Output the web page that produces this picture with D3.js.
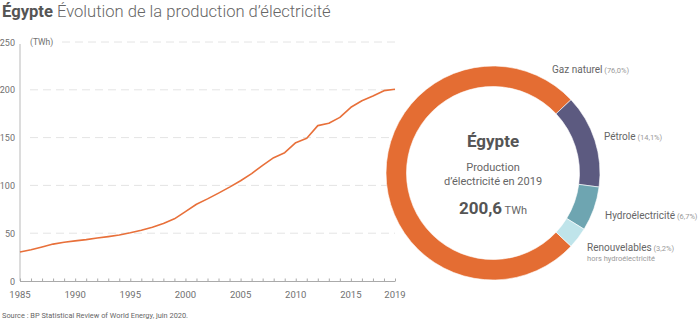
<!DOCTYPE html>
<html><head><meta charset="utf-8">
<script src="https://cdn.jsdelivr.net/npm/d3@7"></script>
<style>
body{margin:0;background:#fff;}
svg{display:block;font-family:Roboto, "Open Sans", sans-serif;}
</style></head>
<body>
<svg id="c" width="700" height="327"></svg>
<script>
const years = d3.range(1985, 2020);
const production = [30.4,32.6,35.6,38.6,40.5,42.0,43.3,44.9,46.4,48.1,50.4,53.1,56.3,60.2,65.0,72.6,80.3,85.9,91.9,98.2,104.9,112.4,121.0,129.0,134.2,144.7,149.3,162.5,165.0,171.2,181.7,188.6,193.5,199.1,200.6];
const yTicks = [0,50,100,150,200,250];
const xTickLabels = [1985,1990,1995,2000,2005,2010,2015,2019];
const sources = ["Gaz naturel","Pétrole","Hydroélectricité","Renouvelables"];
const shares = [76.0,14.1,6.7,3.2];
const shareLabels = ["(76,0%)","(14,1%)","(6,7%)","(3,2%)"];
const colors = ["#E46D33","#5C5A80","#6EA5B1","#BFE4EA"];

const svg = d3.select("#c");

// Title
const title = svg.append("text").attr("x",2).attr("y",17).attr("font-size",16.6).attr("fill","#555");
title.append("tspan").attr("font-weight",700).text("Égypte");
title.append("tspan").attr("font-weight",300).attr("fill","#666").text(" Évolution de la production d’électricité");

// Line chart
const x = d3.scaleLinear().domain([1985,2019]).range([20,395]);
const y = d3.scaleLinear().domain([0,250]).range([281,42]);

// grid
svg.append("g").selectAll("line").data(yTicks.filter(d=>d>0)).join("line")
  .attr("x1", d=> d===250 ? 62 : 30).attr("x2",395)
  .attr("y1", d=>y(d)).attr("y2", d=>y(d))
  .attr("stroke","#e4e4e4").attr("stroke-width",1).attr("stroke-dasharray","8,5");

// y labels
svg.append("g").selectAll("text").data(yTicks).join("text")
  .attr("x",15).attr("y",d=>y(d)+3.5).attr("text-anchor","end")
  .attr("font-size",9).attr("fill","#707070").text(d=>d);

svg.append("text").attr("x",30).attr("y",45).attr("font-size",8.5).attr("fill","#707070").text("(TWh)");

// y axis line
svg.append("line").attr("x1",20).attr("x2",20).attr("y1",44).attr("y2",281)
  .attr("stroke","#dcdcdc").attr("stroke-width",2);

// x axis
const xAxis = d3.axisBottom(x).tickValues(years).tickSize(-3).tickFormat("");
const gx = svg.append("g").attr("transform","translate(0,281.5)").call(xAxis);
gx.select(".domain").attr("stroke","#aaa").attr("d","M20,0H395");
gx.selectAll(".tick line").attr("stroke","#aaa");
svg.append("g").selectAll("text").data(xTickLabels).join("text")
  .attr("x",d=>x(d)).attr("y",298).attr("text-anchor","middle")
  .attr("font-size",9.5).attr("fill","#707070").text(d=>d);

// line
svg.append("path").datum(production)
  .attr("fill","none").attr("stroke","#E8703A").attr("stroke-width",1.6)
  .attr("stroke-linejoin","round")
  .attr("d", d3.line().x((d,i)=>x(years[i])).y(d=>y(d)));

// Source
svg.append("text").attr("x",2).attr("y",318).attr("font-size",7.4).attr("fill","#666")
  .text("Source : BP Statistical Review of World Energy, juin 2020.");

// Donut
const cx = 493, cy = 173, rOut = 107, rIn = 86.5;
const startA = (270 - 0.76*180) * Math.PI/180;
const pie = d3.pie().sort(null).value(d=>d).startAngle(startA).endAngle(startA + 2*Math.PI);
const arc = d3.arc().innerRadius(rIn).outerRadius(rOut);
const g = svg.append("g").attr("transform",`translate(${cx},${cy})`);
g.selectAll("path").data(pie(shares)).join("path")
  .attr("d",arc).attr("fill",(d,i)=>colors[i]).attr("stroke","#fff").attr("stroke-width",0.6);

// center texts
g.append("text").attr("x",0).attr("y",-26).attr("text-anchor","middle")
  .attr("font-size",17).attr("font-weight",700).attr("fill","#555").text("Égypte");
g.append("text").attr("x",0).attr("y",-2.3).attr("text-anchor","middle")
  .attr("font-size",11).attr("fill","#666").text("Production");
g.append("text").attr("x",0).attr("y",12).attr("text-anchor","middle")
  .attr("font-size",11).attr("fill","#666").text("d’électricité en 2019");
const tv = g.append("text").attr("x",0).attr("y",41.3).attr("text-anchor","middle").attr("fill","#555");
tv.append("tspan").attr("font-size",17).attr("font-weight",700).text("200,6");
tv.append("tspan").attr("font-size",11).attr("fill","#666").text(" TWh");

// Labels
const labelPos = [[552,73],[604,140],[605,218.5],[587,251]];
sources.forEach((s,i)=>{
  const t = svg.append("text").attr("x",labelPos[i][0]).attr("y",labelPos[i][1]).attr("fill","#666");
  t.append("tspan").attr("font-size",10).text(s);
  t.append("tspan").attr("font-size",7.5).attr("fill","#999").text(" " + shareLabels[i]);
});
svg.append("text").attr("x",587).attr("y",261).attr("font-size",7.5).attr("fill","#999").text("hors hydroélectricité");
</script>
</body></html>
